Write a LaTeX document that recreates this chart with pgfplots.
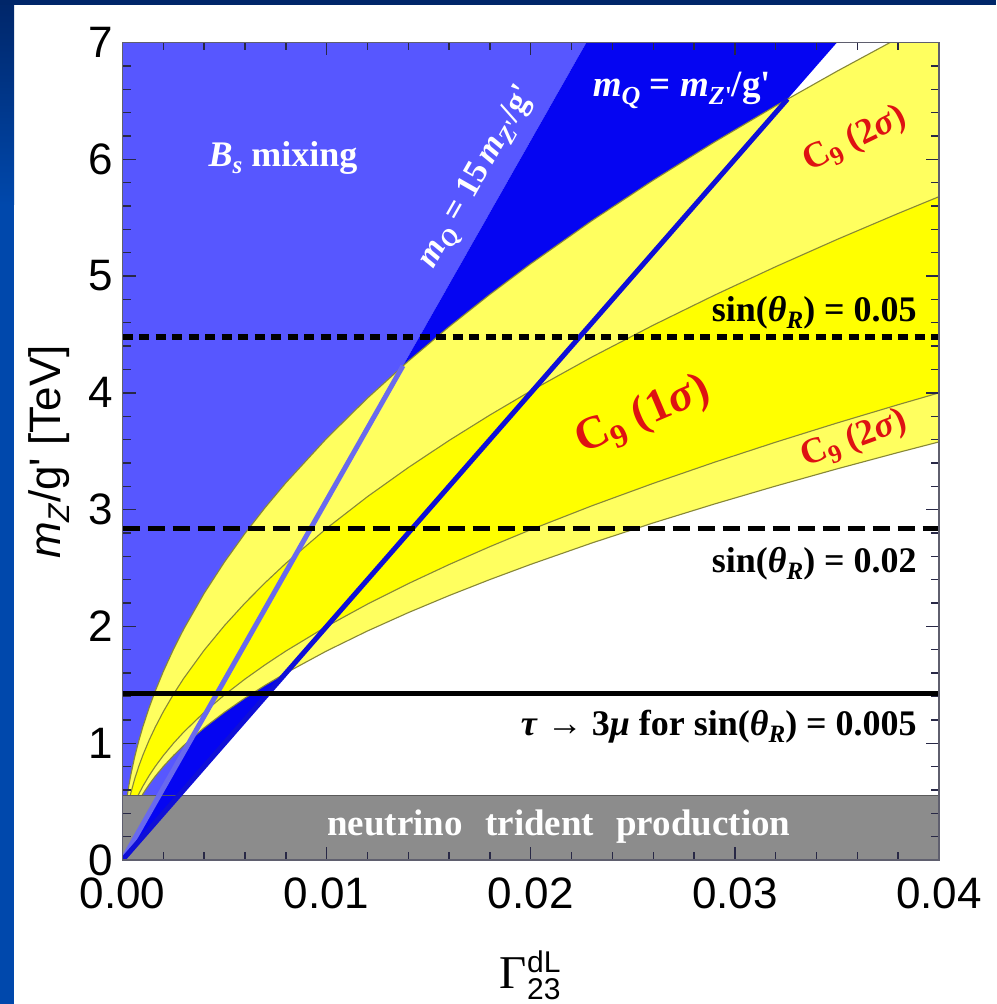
\documentclass[border=0pt]{standalone}
\usepackage{fontspec}
\setmainfont{Liberation Sans}
\newfontfamily\tms{Liberation Serif}
\usepackage{pgfplots}
\pgfplotsset{compat=1.18}
\usepackage{pgfplotstable}

\definecolor{bslight}{RGB}{87,87,255}
\definecolor{bsdark}{RGB}{5,5,242}
\definecolor{lineLight}{RGB}{105,105,238}
\definecolor{lineDark}{RGB}{15,15,215}
\definecolor{pale}{RGB}{255,255,95}
\definecolor{bright}{RGB}{255,255,0}
\definecolor{olive}{RGB}{135,135,55}
\definecolor{grayband}{RGB}{140,140,140}
\definecolor{grayedge}{RGB}{90,90,90}
\definecolor{c9red}{RGB}{222,18,18}
\definecolor{navy}{RGB}{0,38,105}
\definecolor{slideblue}{RGB}{0,72,172}
\definecolor{framec}{RGB}{95,95,110}
\definecolor{tickc}{RGB}{40,40,70}

\newcommand{\lo}[2][25]{\raisebox{-0.2em}{\fontsize{#1}{#1}\selectfont #2}}

\pgfplotstableread{
x u2 u1 l1 l2
0 0 0 0 0
0.0001 0.361 0.284 0.2 0.179
0.0002 0.5105 0.4016 0.2828 0.2531
0.0003 0.6253 0.4919 0.3464 0.3100
0.0004 0.722 0.568 0.4 0.358
0.0006 0.8843 0.6957 0.4899 0.4385
0.0008 1.0211 0.8033 0.5657 0.5063
0.001 1.1416 0.8981 0.6325 0.566
0.0013 1.3016 1.024 0.7211 0.6454
0.0016 1.444 1.136 0.8 0.716
0.002 1.6144 1.2701 0.8944 0.8005
0.0025 1.805 1.42 1.0 0.895
0.003 1.9773 1.5555 1.0954 0.9804
0.004 2.2832 1.7962 1.2649 1.1321
0.005 2.5527 2.0082 1.4142 1.2657
0.006 2.7963 2.1999 1.5492 1.3865
0.007 3.0203 2.3761 1.6733 1.4976
0.008 3.2289 2.5402 1.7889 1.601
0.010 3.61 2.84 2.0 1.79
0.012 3.9546 3.1111 2.1909 1.9609
0.014 4.2714 3.3603 2.3664 2.1180
0.016 4.5663 3.5923 2.5298 2.2642
0.018 4.8433 3.8103 2.6833 2.4015
0.020 5.1053 4.0164 2.8284 2.5314
0.023 5.4749 4.3071 3.0332 2.7147
0.026 5.8209 4.5794 3.2249 2.8863
0.029 6.1476 4.8363 3.4059 3.0483
0.032 6.4578 5.0803 3.5777 3.2020
0.035 6.7537 5.3132 3.7417 3.3488
0.038 7.0372 5.5362 3.8987 3.4894
0.040 7.22 5.68 4.0 3.58
}\bands

\begin{document}
\begin{tikzpicture}
\useasboundingbox (0pt,0pt) rectangle (996pt,1004pt);
\fill[white] (0pt,0pt) rectangle (996pt,1004pt);
\fill[slideblue] (0pt,0pt) rectangle (14pt,800pt);
\shade[top color=navy, bottom color=slideblue] (0pt,799pt) rectangle (14pt,1004pt);
\fill[navy] (0pt,999pt) rectangle (996pt,1004pt);

\begin{axis}[
  at={(122.5pt,144pt)}, anchor=south west,
  scale only axis, width=816.5pt, height=817.5pt,
  xmin=0, xmax=0.04, ymin=0, ymax=7,
  axis on top,
  xtick={0,0.01,0.02,0.03,0.04},
  xticklabels={0.00,0.01,0.02,0.03,0.04},
  scaled x ticks=false,
  ytick={0,1,2,3,4,5,6,7},
  minor x tick num=4, minor y tick num=4,
  tick align=inside,
  major tick length=13pt, minor tick length=8pt,
  tick style={color=tickc, line width=1.4pt},
  axis line style={color=framec, line width=1.2pt},
  tick label style={font=\fontsize{44}{44}\selectfont, inner sep=0pt},
  /pgf/number format/assume math mode=true,
  xticklabel style={yshift=-18pt},
  yticklabel style={xshift=-9.5pt},
]
% B_s mixing regions
\addplot[fill=bslight, draw=none] coordinates {(0,0) (0,7) (0.022727,7) (0,0)};
\addplot[fill=bsdark, draw=none] coordinates {(0,0) (0.022727,7) (0.035,7) (0,0)};
% C9 2 sigma band
\addplot[fill=pale, draw=none] coordinates {
(0,0) (0.0001,0.361) (0.0002,0.5105) (0.0003,0.6253) (0.0004,0.722) (0.0006,0.8843) (0.0008,1.0211) (0.001,1.1416) (0.0013,1.3016) (0.0016,1.444) (0.002,1.6144) (0.0025,1.805) (0.003,1.9773) (0.004,2.2832) (0.005,2.5527) (0.006,2.7963) (0.007,3.0203) (0.008,3.2289) (0.010,3.61) (0.012,3.9546) (0.014,4.2714) (0.016,4.5663) (0.018,4.8433) (0.020,5.1053) (0.023,5.4749) (0.026,5.8209) (0.029,6.1476) (0.032,6.4578) (0.035,6.7537) (0.038,7.0372) (0.040,7.22)
(0.040,3.58) (0.038,3.4894) (0.035,3.3488) (0.032,3.2020) (0.029,3.0483) (0.026,2.8863) (0.023,2.7147) (0.020,2.5314) (0.018,2.4015) (0.016,2.2642) (0.014,2.1180) (0.012,1.9609) (0.010,1.79) (0.008,1.601) (0.007,1.4976) (0.006,1.3865) (0.005,1.2657) (0.004,1.1321) (0.003,0.9804) (0.0025,0.895) (0.002,0.8005) (0.0016,0.716) (0.0013,0.6454) (0.001,0.566) (0.0008,0.5063) (0.0006,0.4385) (0.0004,0.358) (0.0003,0.3100) (0.0002,0.2531) (0.0001,0.179) (0,0)};
% C9 1 sigma band
\addplot[fill=bright, draw=none] coordinates {
(0,0) (0.0001,0.284) (0.0002,0.4016) (0.0003,0.4919) (0.0004,0.568) (0.0006,0.6957) (0.0008,0.8033) (0.001,0.8981) (0.0013,1.024) (0.0016,1.136) (0.002,1.2701) (0.0025,1.42) (0.003,1.5555) (0.004,1.7962) (0.005,2.0082) (0.006,2.1999) (0.007,2.3761) (0.008,2.5402) (0.010,2.84) (0.012,3.1111) (0.014,3.3603) (0.016,3.5923) (0.018,3.8103) (0.020,4.0164) (0.023,4.3071) (0.026,4.5794) (0.029,4.8363) (0.032,5.0803) (0.035,5.3132) (0.038,5.5362) (0.040,5.68)
(0.040,4.0) (0.038,3.8987) (0.035,3.7417) (0.032,3.5777) (0.029,3.4059) (0.026,3.2249) (0.023,3.0332) (0.020,2.8284) (0.018,2.6833) (0.016,2.5298) (0.014,2.3664) (0.012,2.1909) (0.010,2.0) (0.008,1.7889) (0.007,1.6733) (0.006,1.5492) (0.005,1.4142) (0.004,1.2649) (0.003,1.0954) (0.0025,1.0) (0.002,0.8944) (0.0016,0.8) (0.0013,0.7211) (0.001,0.6325) (0.0008,0.5657) (0.0006,0.4899) (0.0004,0.4) (0.0003,0.3464) (0.0002,0.2828) (0.0001,0.2) (0,0)};
% band outlines
\addplot[olive, line width=1.1pt] table[x=x, y=u2] {\bands};
\addplot[olive, line width=1.1pt] table[x=x, y=u1] {\bands};
\addplot[olive, line width=1.1pt] table[x=x, y=l1] {\bands};
\addplot[olive, line width=1.1pt] table[x=x, y=l2] {\bands};
% neutrino trident production
\addplot[fill=grayband, draw=none] coordinates {(0,0) (0,0.55) (0.04,0.55) (0.04,0) (0,0)};
\addplot[grayedge, line width=1.2pt] coordinates {(0,0.55) (0.04,0.55)};
\addplot[fill=bsdark, draw=none] coordinates {(0,0) (0.001786,0.55) (0.00275,0.55) (0,0)};
% m_Q lines
\addplot[lineLight, line width=5pt] coordinates {(0,0) (0.01374,4.232)};
\addplot[lineDark, line width=5pt] coordinates {(0,0) (0.03258,6.516)};
% sin(theta_R) lines
\addplot[black, line width=5.5pt, dash pattern=on 10pt off 6.5pt] coordinates {(0,4.48) (0.04,4.48)};
\addplot[black, line width=5pt, dash pattern=on 17pt off 8pt] coordinates {(0,2.835) (0.04,2.835)};
\addplot[black, line width=5pt] coordinates {(0,1.425) (0.04,1.425)};

% labels
\node[white, inner sep=0pt] at (axis cs:0.00786,6.01)
  {\tms\bfseries\fontsize{36}{36}\selectfont\textit{B}\lo{\textit{s}} mixing};
\node[white, inner sep=0pt, rotate=60.4] at (axis cs:0.01745,5.84)
  {\tms\bfseries\fontsize{34}{34}\selectfont\textit{m}\lo[24]{\textit{Q}} = 15\,\textit{m}\lo[24]{\textit{Z}\textquotesingle}/g\textquotesingle};
\node[white, inner sep=0pt] at (axis cs:0.02741,6.59)
  {\tms\bfseries\fontsize{37}{37}\selectfont\textit{m}\lo[26]{\textit{Q}} = \textit{m}\lo[26]{\textit{Z}\textquotesingle}/g\textquotesingle};
\node[c9red, inner sep=0pt, rotate=26] at (axis cs:0.03588,6.17)
  {\tms\bfseries\fontsize{36}{36}\selectfont C\lo[26]{9} (2\textit{σ})};
\node[c9red, inner sep=0pt, rotate=23] at (axis cs:0.0255,3.80)
  {\tms\bfseries\fontsize{46}{46}\selectfont C\lo[33]{9} (1\textit{σ})};
\node[c9red, inner sep=0pt, rotate=20] at (axis cs:0.03584,3.60)
  {\tms\bfseries\fontsize{36}{36}\selectfont C\lo[26]{9} (2\textit{σ})};
\node[black, inner sep=0pt, anchor=east] at (axis cs:0.03892,4.69)
  {\tms\bfseries\fontsize{36}{36}\selectfont sin(\textit{θ}\lo{\textit{R}}) = 0.05};
\node[black, inner sep=0pt, anchor=east] at (axis cs:0.03892,2.54)
  {\tms\bfseries\fontsize{36}{36}\selectfont sin(\textit{θ}\lo{\textit{R}}) = 0.02};
\node[black, inner sep=0pt, anchor=east] at (axis cs:0.03892,1.14)
  {\tms\bfseries\fontsize{36}{36}\selectfont \textit{τ} → 3\textit{μ} for sin(\textit{θ}\lo{\textit{R}}) = 0.005};
\node[white, inner sep=0pt] at (axis cs:0.02138,0.29)
  {\tms\bfseries\fontsize{37}{37}\selectfont neutrino\hspace{0.6em}trident\hspace{0.6em}production};
\end{axis}

% axis labels
\node[rotate=90, anchor=south, inner sep=0pt] at (70pt,552pt)
  {\fontsize{44}{44}\selectfont\textit{m}\lo[30]{\textit{Z}}/g\textquotesingle\ [TeV]};
\node[anchor=base west, inner sep=0pt] at (499pt,15pt) {\tms\fontsize{47}{47}\selectfont Γ};
\node[anchor=base west, inner sep=0pt] at (527pt,31pt) {\fontsize{30}{30}\selectfont dL};
\node[anchor=base west, inner sep=0pt] at (527pt,5pt) {\fontsize{30}{30}\selectfont 23};
\end{tikzpicture}
\end{document}
